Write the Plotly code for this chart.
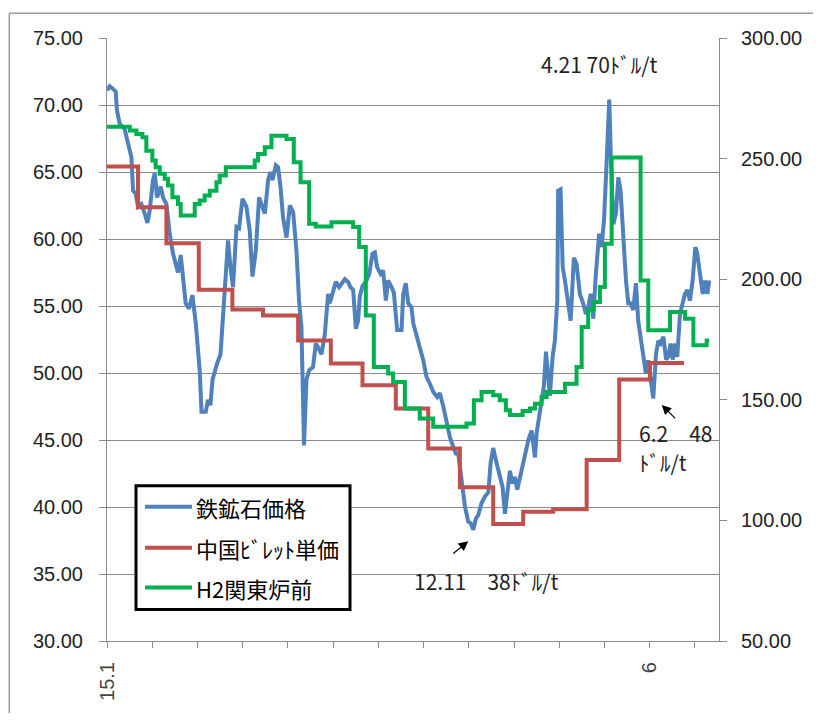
import plotly.graph_objects as go

# ---------------- data (x = trading-day index from 2015-01) ----------------
ore_idx = [0, 1.8, 4.0, 5.8, 6.6, 8.4, 11.7, 13.9, 16.2, 17.3, 19.0, 20.6, 22.8, 25.0, 26.8, 28.3,
           30.5, 31.7, 33.2, 35.6, 37.2, 39.4, 41.6, 43.8, 47.1, 48.9, 50.4, 52.2, 54.4, 56.7, 58.9,
           61.5, 62.7, 65.5, 67.0, 68.6, 70.0, 71.5, 73.0, 75.3, 77.5, 80.3, 81.9, 83.6, 85.9, 87.6,
           89.9, 92.5, 94.7, 96.5, 98.7, 100.9, 103.1, 104.7, 106.9, 108.4, 109.8, 112.0, 113.5,
           115.1, 116.8, 119.1, 121.3, 123.5, 125.7, 127.4, 129.0, 130.7, 132.3, 134.1, 136.7,
           138.5, 140.1, 142.3, 144.5, 146.7, 147.8, 149.6, 151.8, 154.0, 156.2, 157.8, 160.0,
           161.5, 163.3, 165.1, 166.6, 167.7, 169.5, 171.7, 174.0, 176.1, 177.7, 179.2, 181.5,
           183.2, 185.0, 186.5, 188.8, 190.3, 192.5, 195.4, 196.5, 198.2, 199.8, 202.0, 203.2,
           205.4, 207.5, 209.8, 212.0, 214.2, 216.4, 219.0, 220.8, 223.1, 225.3, 227.5, 229.7,
           231.4, 233.0, 235.3, 237.5, 239.7, 241.2, 243.0, 244.8, 246.3, 248.5, 250.8, 253.0,
           254.5, 256.2, 258.4, 260.2, 262.4, 264.0, 265.5, 267.3, 269.1, 270.6, 272.2, 273.5,
           275.1, 277.3, 279.5, 281.7, 283.9, 285.0, 286.7, 288.3, 289.8, 291.2, 292.8, 293.8,
           295.6, 297.1, 298.7, 299.3, 300.9, 302.3, 303.8, 306.0, 307.6, 309.7, 311.5, 313.7,
           315.9, 317.7, 319.2, 320.9, 322.6, 324.3, 326.5, 328.1, 329.7, 331.4, 333.2, 334.3,
           335.9, 337.6, 339.2, 340.7, 342.5, 344.3, 345.8, 347.4, 349.1, 350.9, 352.4, 354.0,
           355.7, 357.5, 359.0, 360.7, 362.4, 364.2, 365.7, 367.3, 369.1, 370.9, 372.3, 373.9,
           375.3, 376.8, 378.3, 380.1, 381.9, 383.4, 385.0, 386.7, 388.5, 390.3, 391.6, 393.4,
           395.2, 396.7, 398.3, 399.5]
ore_price = [71.1, 71.4, 71.2, 71.0, 69.6, 68.6, 68.2, 67.3, 66.1, 63.6, 63.4, 62.4, 62.6, 61.9, 61.2, 62.1,
             64.4, 64.9, 63.1, 63.9, 63.1, 62.6, 60.4, 58.9, 57.5, 58.8, 56.9, 55.2, 54.8, 55.8, 53.7,
             50.2, 47.1, 47.1, 48.0, 47.6, 49.5, 50.2, 50.7, 51.4, 55.4, 59.9, 57.9, 56.4, 60.9, 60.8,
             63.0, 62.4, 60.6, 57.2, 59.1, 63.1, 62.4, 61.9, 64.4, 65.0, 64.4, 65.5, 65.35,
             63.9, 61.6, 60.1, 62.5, 62.0, 59.1, 55.4, 53.4, 44.6, 49.5, 50.2, 50.45,
             52.2, 51.9, 51.4, 52.9, 55.9, 55.2, 56.0, 56.8, 56.4, 56.7, 57.0, 56.8,
             56.4, 56.2, 53.3, 53.9, 55.7, 56.5, 56.8, 57.4, 58.9, 59.0, 57.9, 57.4,
             57.65, 55.4, 56.9, 56.4, 56.0, 53.2, 53.2, 55.9, 56.7, 55.2, 54.9, 53.7,
             52.9, 51.9, 50.95, 49.7, 49.2, 48.6, 48.2, 48.5, 47.5, 46.2, 45.2, 44.5,
             44.0, 44.0, 41.8, 40.0, 38.9, 38.8, 38.3, 39.15, 39.4, 40.3, 40.8, 41.1,
             43.3, 44.4, 43.3, 42.5, 41.5, 39.5, 41.3, 42.7, 41.75, 42.25, 41.3, 42.0,
             42.5, 44.0, 45.0, 45.7, 43.7, 45.5, 46.7, 47.5, 49.0, 51.6, 49.95, 48.3,
             51.2, 52.4, 55.4, 63.6, 63.7, 57.9, 56.9, 54.9, 53.9, 58.6, 58.15, 55.9,
             55.2, 54.4, 54.9, 55.9, 54.05, 57.4, 60.4, 59.4, 61.4, 65.6, 70.4, 65.85,
             61.1, 61.9, 64.6, 63.6, 59.9, 56.9, 55.2, 55.2, 54.7, 56.7, 53.9, 52.7,
             51.2, 49.95, 50.95, 49.5, 48.1, 51.4, 52.4, 52.2, 52.7, 51.0, 51.2, 52.2,
             51.0, 52.2, 51.2, 54.4, 55.4, 55.9, 56.2, 55.4, 56.9, 59.4, 58.9, 57.4,
             55.9, 56.9, 55.9, 56.9]

billet_idx = [0, 20.6, 39.4, 60.9, 83.2, 103.5, 126.8, 148.5, 169.5, 191.6, 213.1, 234.1,
              256.2, 276.1, 296.0, 318.2, 339.8, 360.2, 382.8]
billet_price = [246.7, 229.8, 214.9, 195.6, 187.4, 185.0, 174.6, 165.0, 156.0, 146.4, 129.8, 113.7,
                98.5, 103.6, 104.6, 125.0, 158.4, 165.3, 165.3]

h2_idx = [0, 15.1, 19.5, 23.5, 26.1, 30.1, 32.3, 35.0, 38.3, 40.5, 43.4, 47.1, 48.9, 58.2, 61.5,
          64.8, 68.2, 72.6, 74.8, 78.8, 98.0, 100.2, 104.7, 109.1, 119.1, 123.9, 128.4, 134.1,
          138.5, 148.9, 163.3, 167.3, 171.7, 177.0, 186.5, 189.8, 197.6, 207.5, 216.4, 238.5,
          243.4, 248.5, 256.2, 260.6, 264.6, 267.3, 275.7, 280.6, 283.9, 288.3, 291.6, 303.8,
          311.5, 314.9, 319.2, 322.6, 327.0, 330.3, 334.8, 354.0, 359.1, 373.5, 383.5, 389.0,
          397.8, 399.5]
h2_price = [263.2, 261.6, 260.2, 258.8, 253.3, 249.2, 246.4, 243.7, 241.6, 238.8, 234.0, 231.2, 226.4,
            231.2, 232.6, 234.7, 236.7, 240.2, 243.0, 246.4, 249.2, 251.9, 254.7, 259.5, 258.1,
            248.5, 240.2, 223.0, 221.8, 223.6, 221.6, 213.3, 185.0, 163.6, 160.9, 157.4, 146.4,
            142.2, 138.8, 140.2, 149.8, 153.2, 151.9, 149.8, 145.7, 143.7, 145.4, 146.4, 148.4,
            151.2, 153.2, 156.7, 163.6, 180.2, 187.1, 190.5, 196.8, 214.7, 250.5, 199.5, 178.8,
            186.4, 183.6, 172.6, 174.6, 174.6]

x_tick_vals = [0, 30, 60, 90, 120, 150, 180, 210, 240, 270, 300, 330, 360, 390]
x_tick_text = ["15.1", "", "", "", "", "", "", "", "", "", "", "", "6", ""]

series_names = ["鉄鉱石価格", "中国ﾋﾞﾚｯﾄ単価", "H2関東炉前"]
series_colors = ["#4F81BD", "#C0504D", "#00B050"]

# ---------------- layout geometry ----------------
# page body has an 8px default margin; the figure is sized so it fits the 821x721 window
OFF = 8
W, H = 805, 705
L, R, T, B = 99, 94, 29.5, 71.5
PW, PH = W - L - R, H - T - B


def px(xp):
    """window pixel x -> paper coordinate"""
    return (xp - OFF - L) / PW


def py(yp):
    """window pixel y -> paper coordinate"""
    return (H - B - (yp - OFF)) / PH


TICKFONT = dict(family="Liberation Sans, Arial, sans-serif", size=20, color="#222222")
JPFONT = "Noto Sans CJK JP, sans-serif"
GRAY = "#8c8c8c"
LW = 4

fig = go.Figure()
fig.add_trace(go.Scatter(x=ore_idx, y=ore_price, mode="lines", name=series_names[0],
                         line=dict(color=series_colors[0], width=LW), yaxis="y"))
fig.add_trace(go.Scatter(x=billet_idx, y=billet_price, mode="lines", name=series_names[1],
                         line=dict(color=series_colors[1], width=LW, shape="hv"), yaxis="y2"))
fig.add_trace(go.Scatter(x=h2_idx, y=h2_price, mode="lines", name=series_names[2],
                         line=dict(color=series_colors[2], width=LW, shape="hv"), yaxis="y2"))

fig.update_layout(
    width=W, height=H,
    margin=dict(l=L, r=R, t=T, b=B, autoexpand=False),
    paper_bgcolor="white", plot_bgcolor="white",
    showlegend=False,
    xaxis=dict(range=[0, 406], tickvals=x_tick_vals, ticktext=x_tick_text, tickangle=-90,
               ticks="outside", ticklen=6, tickcolor=GRAY, showline=True, linecolor=GRAY,
               linewidth=1, showgrid=False, zeroline=False, ticklabelstandoff=6,
               tickfont=dict(family="Liberation Sans, Arial, sans-serif", size=20, color="#444444")),
    yaxis=dict(range=[30, 75], tickvals=[30, 35, 40, 45, 50, 55, 60, 65, 70, 75], tickformat=".2f",
               ticks="outside", ticklen=7, tickcolor=GRAY, showline=True, linecolor=GRAY,
               showgrid=True, gridcolor=GRAY, gridwidth=1, zeroline=False,
               ticklabelstandoff=12, tickfont=TICKFONT),
    yaxis2=dict(range=[50, 300], tickvals=[50, 100, 150, 200, 250, 300], tickformat=".2f",
                overlaying="y", side="right", ticks="outside", ticklen=7, tickcolor=GRAY,
                showline=True, linecolor=GRAY, showgrid=False, zeroline=False,
                ticklabelstandoff=10, tickfont=TICKFONT),
)

shapes = []
# outer chart border (top and left visible)
shapes.append(dict(type="line", xref="paper", yref="paper", x0=px(9.3), x1=px(830), y0=py(12.7), y1=py(12.7),
                   line=dict(color="#9a9a9a", width=1.5)))
shapes.append(dict(type="line", xref="paper", yref="paper", x0=px(9.3), x1=px(9.3), y0=py(12.7), y1=py(730),
                   line=dict(color="#9a9a9a", width=1.5)))
# legend box
shapes.append(dict(type="rect", xref="paper", yref="paper", x0=px(136), x1=px(350), y0=py(486), y1=py(610),
                   line=dict(color="black", width=3), fillcolor="white", layer="above"))
legend_rows = [507, 548, 588]
annotations = []
for name, color, yr in zip(series_names, series_colors, legend_rows):
    shapes.append(dict(type="line", xref="paper", yref="paper", x0=px(145), x1=px(192), y0=py(yr), y1=py(yr),
                       line=dict(color=color, width=LW), layer="above"))
    annotations.append(dict(xref="paper", yref="paper", x=px(194), y=py(yr), text=name, showarrow=False,
                            xanchor="left", yanchor="middle",
                            font=dict(family=JPFONT, size=22, color="black")))

# text annotations
ANNFONT = dict(family=JPFONT, size=21, color="#222222")
annotations.append(dict(xref="paper", yref="paper", x=px(599), y=py(64), text="4.21 70ﾄﾞﾙ/t", showarrow=False,
                        xanchor="center", yanchor="middle", font=ANNFONT))
annotations.append(dict(xref="paper", yref="paper", x=px(486), y=py(581), text="12.11　38ﾄﾞﾙ/t", showarrow=False,
                        xanchor="center", yanchor="middle", font=ANNFONT))
annotations.append(dict(xref="paper", yref="paper", x=px(637), y=py(433), text="6.2　48", showarrow=False,
                        xanchor="left", yanchor="middle", font=ANNFONT))
annotations.append(dict(xref="paper", yref="paper", x=px(637), y=py(462), text="ﾄﾞﾙ/t", showarrow=False,
                        xanchor="left", yanchor="middle", font=ANNFONT))
# arrows
annotations.append(dict(xref="paper", yref="paper", x=px(468.3), y=py(541.7), ax=-16.6, ay=13.3, text="",
                        showarrow=True, arrowhead=2, arrowsize=1.6, arrowwidth=1.2, arrowcolor="black"))
annotations.append(dict(xref="paper", yref="paper", x=px(661.7), y=py(405), ax=15, ay=15, text="",
                        showarrow=True, arrowhead=2, arrowsize=1.6, arrowwidth=1.2, arrowcolor="black"))

fig.update_layout(shapes=shapes, annotations=annotations)
fig.write_html("out.html")
